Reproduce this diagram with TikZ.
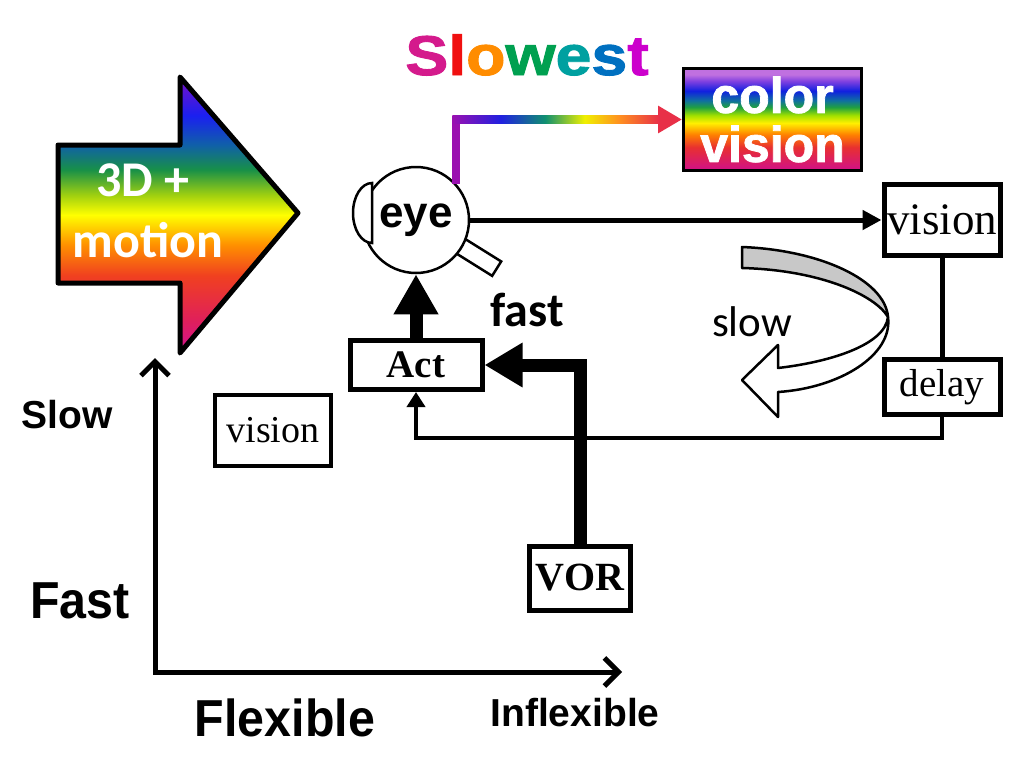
\documentclass[tikz,border=0pt]{standalone}
\usepackage{fontspec}
\usepackage{graphicx}
\setmainfont{Liberation Serif}
\newfontfamily\arialfont{Liberation Sans}
\newfontfamily\blackfont{Liberation Sans Bold}[FakeBold=1.6]
\newfontfamily\calfont{Carlito}
\usetikzlibrary{arrows.meta,calc}

% rainbow colours
\definecolor{arP}{HTML}{7A10C8}
\definecolor{arB}{HTML}{1A20F0}
\definecolor{arT}{HTML}{1060A8}
\definecolor{arG}{HTML}{189048}
\definecolor{arYG}{HTML}{A0D010}
\definecolor{arY}{HTML}{FFFF00}
\definecolor{arO}{HTML}{FF9000}
\definecolor{arR}{HTML}{F04020}
\definecolor{arCr}{HTML}{E0205A}
\definecolor{arM}{HTML}{D01090}
\definecolor{cvTop}{HTML}{C070E0}
\definecolor{cvV}{HTML}{8040E0}
\definecolor{cvB}{HTML}{1020E0}
\definecolor{cvT}{HTML}{1070A0}
\definecolor{cvG}{HTML}{20A040}
\definecolor{cvYG}{HTML}{A0E000}
\definecolor{cvY}{HTML}{FFF000}
\definecolor{cvO}{HTML}{FF8000}
\definecolor{cvR}{HTML}{E83030}
\definecolor{cvM}{HTML}{D0108A}
\definecolor{rbviolet}{HTML}{9A10B0}
\definecolor{rbblue}{HTML}{2020E0}
\definecolor{rbteal}{HTML}{109070}
\definecolor{rbyellow}{HTML}{F0F000}
\definecolor{rborange}{HTML}{FF9020}
\definecolor{rbred}{HTML}{E83048}
\definecolor{bandgray}{HTML}{C8C8C8}
\definecolor{sPink}{HTML}{D41A8C}
\definecolor{sRed}{HTML}{F01010}
\definecolor{sOrange}{HTML}{FF8C00}
\definecolor{sGreen}{HTML}{00A050}
\definecolor{sTeal}{HTML}{00A0A0}
\definecolor{sBlue}{HTML}{0070C0}
\definecolor{sPurple}{HTML}{CC00CC}

\pgfdeclareverticalshading{arrowrainbow}{100bp}{%
  color(0bp)=(arM); color(25bp)=(arM); color(31bp)=(arCr); color(39bp)=(arR);
  color(44.6bp)=(arO); color(50bp)=(arY); color(53.6bp)=(arYG); color(58.2bp)=(arG);
  color(62.7bp)=(arT); color(68bp)=(arB); color(75bp)=(arP); color(100bp)=(arP)}
\pgfdeclareverticalshading{cvrainbow}{100bp}{%
  color(0bp)=(cvM); color(25bp)=(cvM); color(36.4bp)=(cvR); color(42.6bp)=(cvO);
  color(48.3bp)=(cvY); color(52.1bp)=(cvYG); color(56bp)=(cvG); color(59.3bp)=(cvT);
  color(64bp)=(cvB); color(68.8bp)=(cvV); color(72bp)=(cvTop); color(100bp)=(cvTop)}
\pgfdeclarehorizontalshading{linerainbow}{100bp}{%
  color(0bp)=(rbviolet); color(25bp)=(rbviolet); color(36.7bp)=(rbblue);
  color(47.5bp)=(rbteal); color(57bp)=(rbyellow); color(65.4bp)=(rborange);
  color(75bp)=(rbred); color(100bp)=(rbred)}

\tikzset{
  box/.style={draw, line width=5pt, inner sep=0pt, fill=white},
  wire/.style={line width=5pt},
  fatarrow/.style={line width=13pt, -{Triangle[length=40pt,width=42pt]}},
  axis/.style={line width=5pt, line cap=round,
    {Straight Barb[length=14pt,width=28pt]}-{Straight Barb[length=14pt,width=28pt]}},
  whitetext/.style={text=white, font=\calfont\bfseries\fontsize{50}{50}\selectfont},
  axistext/.style={font=\arialfont\bfseries\fontsize{#1}{#1}\selectfont},
}

\begin{document}
\begin{tikzpicture}[x=1pt,y=-1pt]
  \useasboundingbox (0,0) rectangle (1024,768);

  % big rainbow arrow
  \shadedraw[shading=arrowrainbow, line width=5pt, line join=round]
    (58,145) -- (180,145) -- (180,77) -- (298,213) -- (180,353) -- (180,283) -- (58,283) -- cycle;
  \node (threeD) at (143,180) [whitetext]{3D +};
  \node (motion) at (148,240) [whitetext]{motion};

  \node (slowest) at (527,55) [font=\blackfont\fontsize{56}{56}\selectfont]
    {\scalebox{1.15}[1]{{\color{sPink}S}{\color{sRed}l}{\color{sOrange}o}{\color{sGreen}w}{\color{sTeal}e}{\color{sBlue}s}{\color{sPurple}t}}};
  \node (cv) at (772.5,119.5) [draw, line width=3pt, shading=cvrainbow, minimum width=178pt,
    minimum height=102pt, inner sep=0pt, text=white, align=center,
    font=\blackfont\fontsize{50}{49}\selectfont]{color\\vision};

  % the eye
  \node (nerve) at (478,257) [draw, fill=white, line width=2.5pt, minimum width=44pt,
    minimum height=17pt, inner sep=0pt, rotate=-32]{};
  \node (eye) at (416,220) [circle, draw, fill=white, line width=2.5pt, minimum size=106pt,
    inner sep=0pt, font=\arialfont\bfseries\fontsize{44}{44}\selectfont]{eye};
  \filldraw[fill=white, line width=2.5pt] (372,183) arc[start angle=-90, end angle=-270,
    x radius=19, y radius=30] -- cycle;

  \node (vis) at (942,220) [box, minimum width=116pt, minimum height=71pt,
    font=\fontsize{45}{45}\selectfont]{vision};
  \node (delay) at (942,387) [box, minimum width=116pt, minimum height=55pt,
    font=\fontsize{39}{39}\selectfont]{delay};
  \node (act) at (416,365) [box, minimum width=132pt, minimum height=49pt,
    font=\bfseries\fontsize{39}{39}\selectfont]{Act};
  \node (vor) at (580,578) [box, minimum width=101pt, minimum height=64pt,
    font=\bfseries\fontsize{40}{40}\selectfont]{VOR};
  \node (leftvis) at (273,430) [box, line width=4pt, minimum width=116pt, minimum height=71pt,
    font=\fontsize{38}{38}\selectfont]{vision};

  \node (fast) at (527,310) [font=\calfont\bfseries\fontsize{48}{48}\selectfont]{fast};
  \node (slow) at (752,322) [font=\calfont\fontsize{43}{43}\selectfont]{slow};

  % rainbow path to colour vision
  \draw[line width=8pt, rbviolet, -{Triangle[color=rbred,length=24pt,width=26pt]}]
    (eye.42.6) |- (cv.west);
  \shade[shading=linerainbow] ($(eye.42.6 |- cv.west)+(-4,-4)$) rectangle ($(cv.west)+(-23,4)$);

  \draw[wire, -{Triangle[length=19pt,width=19pt]}] (eye) -- (vis);
  \draw[wire] (vis) -- (delay);

  % slow loop
  \filldraw[fill=bandgray, line width=2.5pt, line join=round]
    (742,247) .. controls (820,250) and (885,280) .. (888,317)
    .. controls (875,295) and (820,270) .. (742,268) -- cycle;
  \filldraw[fill=white, line width=2.5pt, line join=round]
    (888,317) .. controls (893,355) and (840,388) .. (778,392)
    -- (778,417) -- (742,380) -- (778,345) -- (778,368)
    .. controls (830,362) and (885,345) .. (888,317) -- cycle;

  \draw[line width=4pt, -{Triangle[length=15pt,width=18pt]}] (delay.south) -- ++(0,21) -| (act.south);
  \draw[fatarrow] (act) -- (eye);
  \draw[fatarrow, -{Triangle[length=38pt,width=42pt]}] (vor) |- (act);

  % axes
  \coordinate (ytip) at (155,358);
  \coordinate (origin) at (155,672);
  \coordinate (xtip) at (622,672);
  \draw[axis] (ytip) -- (origin) -- (xtip);

  \node (slowlab) at (67,415) [axistext=39]{Slow};
  \node (fastlab) at (80,601) [axistext=52]{\scalebox{0.93}[1]{Fast}};
  \node (flexlab) at (285,718) [axistext=52]{\scalebox{0.93}[1]{Flexible}};
  \node (inflexlab) at (575,713) [axistext=39]{Inflexible};
\end{tikzpicture}
\end{document}
